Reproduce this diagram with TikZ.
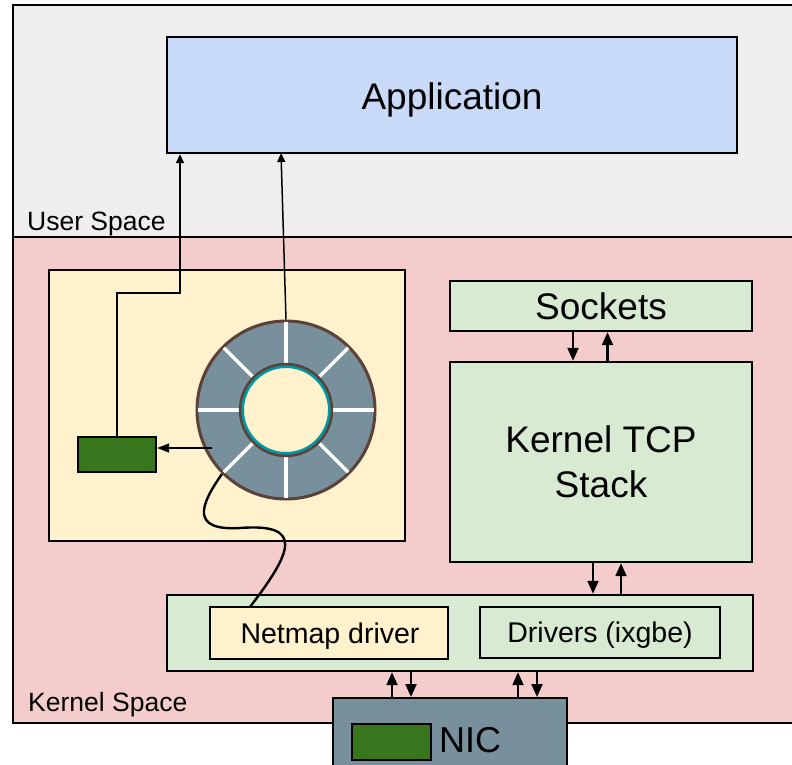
\documentclass[tikz,border=0pt]{standalone}
\usepackage{fontspec}
\setmainfont{Liberation Sans}
\usetikzlibrary{arrows.meta}

\definecolor{userbg}{HTML}{EEEEEE}
\definecolor{kernbg}{HTML}{F4CCCC}
\definecolor{appblue}{HTML}{C9DAF8}
\definecolor{paleyellow}{HTML}{FFF2CC}
\definecolor{palegreen}{HTML}{D9EAD3}
\definecolor{darkgreen}{HTML}{38761D}
\definecolor{slate}{HTML}{78909C}
\definecolor{ringbrown}{HTML}{5D4037}
\definecolor{ringteal}{HTML}{0097A7}

\begin{document}
\begin{tikzpicture}[x=1pt,y=-1pt,
  box/.style={draw=black, line width=2.4pt, rectangle, inner sep=0pt, align=center},
  bigtext/.style={font=\fontsize{37}{45}\selectfont},
  midtext/.style={font=\fontsize{28.5}{34}\selectfont},
  regtext/.style={font=\fontsize{26.5}{32}\selectfont, inner sep=0pt, anchor=base west},
  bigarr/.style={-{Triangle[length=13pt,width=11pt]}, line width=2.2pt},
  smallarr/.style={-{Triangle[length=9pt,width=8pt]}, line width=1.5pt},
  midarr/.style={-{Triangle[length=12pt,width=9pt]}, line width=1.5pt},
  spoke/.style={white, line width=3.2pt}]

\useasboundingbox (0,0) rectangle (792,765);
\clip (0,0) rectangle (792,765);

% address-space regions
\fill[white] (0,0) rectangle (792,765);
\draw[fill=userbg, line width=2.4pt] (13,5) rectangle (810,237);
\draw[fill=kernbg, line width=2.4pt] (13,237) rectangle (810,723);
\node[regtext] (ulabel) at (27,230) {User Space};
\node[regtext] (klabel) at (28,711.5) {Kernel Space};

% application
\node[box, fill=appblue, minimum width=570pt, minimum height=116pt] (app) at (452,95) {};
\node[bigtext, inner sep=0pt] (apptext) at (452,100) {Application};

% netmap area with its ring
\node[box, fill=paleyellow, minimum width=356pt, minimum height=271pt] (nm) at (227,405.5) {};
\node[box, fill=darkgreen, minimum width=78pt, minimum height=35pt] (gbox) at (117,454.5) {};
\node[circle, fill=slate, draw=ringbrown, line width=3pt, minimum size=178pt, inner sep=0pt] (ring) at (286,410) {};
\foreach \a in {0,45,...,315}
  \draw[spoke] (ring.center) ++(\a:45) -- ++(\a:43);
\node[circle, fill=paleyellow, draw=ringbrown, line width=4.5pt, minimum size=90pt, inner sep=0pt] (hole) at (ring.center) {};
\draw[ringteal, line width=2.6pt] (hole.center) circle (43.3);

% kernel stack
\node[box, fill=palegreen, minimum width=302pt, minimum height=50pt, bigtext] (sock) at (601,306) {Sockets};
\node[box, fill=palegreen, minimum width=302pt, minimum height=200pt, bigtext] (tcp) at (601,462) {Kernel TCP\\Stack};

% driver layer
\node[box, fill=palegreen, minimum width=586pt, minimum height=76pt] (drv) at (460,633) {};
\node[box, fill=paleyellow, minimum width=238pt, minimum height=52pt] (nmdrv) at (329,633) {};
\node[midtext, inner sep=0pt] (nmdrvtext) at (330,636) {Netmap driver};
\node[box, fill=palegreen, minimum width=240pt, minimum height=51pt] (ixgbe) at (600,632.5) {};
\node[midtext, inner sep=0pt] (ixgbetext) at (600,635.5) {Drivers (ixgbe)};

% NIC
\node[box, fill=slate, minimum width=234pt, minimum height=100pt, anchor=north] (nic) at (450,697) {};
\node[box, fill=darkgreen, minimum width=79pt, minimum height=36pt] (nicq) at (391.5,742) {};
\node[inner sep=0pt, anchor=west, font=\fontsize{36}{40}\selectfont] (niclabel) at (439,740) {NIC};

% connectors to the application
\coordinate (turn) at (180,293);
\coordinate (appin) at (281,153);
\draw[smallarr] (gbox.north) |- (turn) -- (turn |- app.south);
\draw[smallarr] (ring.north) -- (appin);

% ring slot to the green buffer
\coordinate (slot) at (212,448);
\draw[midarr] (slot) -- (slot -| gbox.east);

% ring attached to the netmap driver
\coordinate (bend) at (240,528);
\coordinate (nmin) at (250,607);
\draw[line width=2.4pt] (ring.225) .. controls (200,505) and (190,531) .. (bend)
  .. controls (305,523) and (292,552) .. (nmin);

% sockets <-> TCP stack
\draw[bigarr] (sock.south -| 573,0) -- (tcp.north -| 573,0);
\draw[bigarr] (tcp.north -| 607.5,0) -- (sock.south -| 607.5,0);

% TCP stack <-> driver layer
\draw[bigarr] (tcp.south -| 593,0) -- (drv.north -| 593,0);
\draw[bigarr] (drv.north -| 621,0) -- (tcp.south -| 621,0);

% driver layer <-> NIC
\draw[bigarr] (nic.north -| 392,0) -- (drv.south -| 392,0);
\draw[bigarr] (drv.south -| 411,0) -- (nic.north -| 411,0);
\draw[bigarr] (nic.north -| 518,0) -- (drv.south -| 518,0);
\draw[bigarr] (drv.south -| 537,0) -- (nic.north -| 537,0);
\end{tikzpicture}
\end{document}
